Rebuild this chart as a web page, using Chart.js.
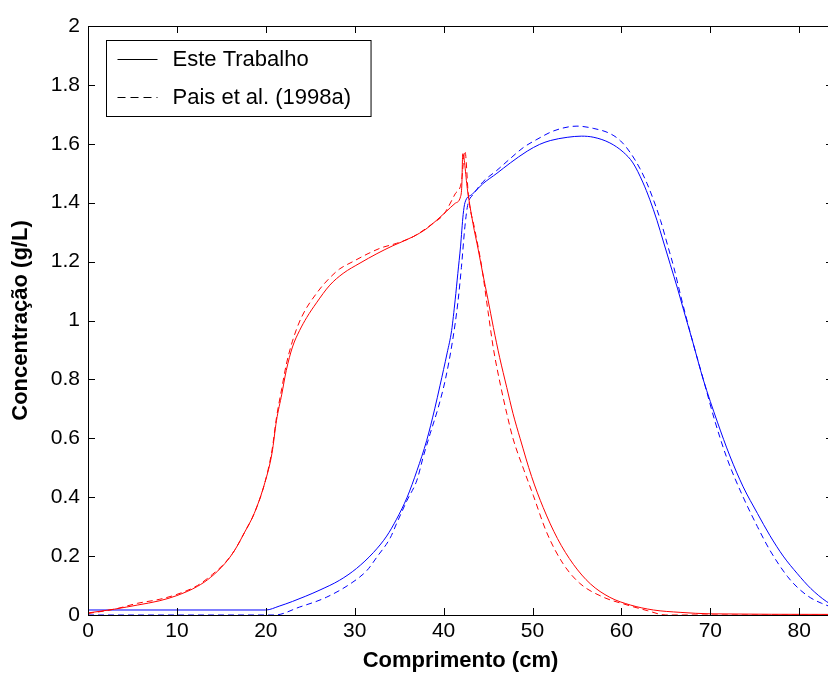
<!DOCTYPE html>
<html lang="pt">
<head>
<meta charset="UTF-8">
<title>Concentração x Comprimento</title>
<script src="https://cdn.jsdelivr.net/npm/chart.js"></script>
<style>
    html, body { margin: 0; padding: 0; background: #fff; overflow: hidden; }
    #wrap { width: 840px; height: 675px; }
</style>
</head>
<body>
<div id="wrap"><canvas id="chart" width="840" height="675"></canvas></div>
<script>
// tick labels
const xTickLabels = ['0', '10', '20', '30', '40', '50', '60', '70', '80'];
const yTickLabels = ['0', '0.2', '0.4', '0.6', '0.8', '1', '1.2', '1.4', '1.6', '1.8', '2'];
const legendLabels = ['Este Trabalho', 'Pais et al. (1998a)'];

// red, this work (solid)
const redSolidX = [0, 3, 5.6, 8, 10, 12.3, 13.8, 15.4, 16.5, 17.6, 18.7, 19.9, 20.7, 21.2, 21.8, 22.3, 23.0, 23.8, 24.6, 25.7,
    27.2, 28.7, 30.6, 32.5, 34.3, 36.6, 38, 39.2, 40.3, 41.3, 41.9, 42.05, 42.15, 42.7, 43.3, 43.9, 44.4, 45.0, 45.6, 46.3,
    47.1, 47.8, 48.6, 49.9, 51.2, 52.8, 54.6, 56.5, 58.7, 61, 63.6, 66.6, 70, 83.8];
const redSolidY = [0.007, 0.02, 0.034, 0.048, 0.066, 0.097, 0.128, 0.175, 0.22, 0.28, 0.345, 0.45, 0.55, 0.66, 0.75, 0.83, 0.91, 0.966, 1.01, 1.06,
    1.12, 1.16, 1.195, 1.227, 1.254, 1.285, 1.31, 1.34, 1.37, 1.398, 1.42, 1.46, 1.566, 1.44, 1.33, 1.24, 1.16, 1.07, 0.976, 0.875,
    0.773, 0.685, 0.60, 0.47, 0.365, 0.26, 0.172, 0.106, 0.06, 0.034, 0.017, 0.009, 0.004, 0.002];

// red, Pais et al. (dashed)
const redDashX = [0, 3, 5.6, 8, 10, 12.3, 14, 15.5, 16.5, 17.6, 18.7, 19.9, 20.7, 21.2, 21.8, 22.3, 23.0, 24.0, 25.9, 27.2,
    28.3, 29.8, 31.5, 33.0, 34.7, 36.6, 38.8, 40, 41.3, 42.0, 42.4, 42.8, 43.5, 44.3, 45.0, 45.6, 46.4, 47.1, 47.8, 49,
    50.1, 51.6, 53.4, 55.3, 58, 60.2, 62.9, 65, 83.8];
const redDashY = [0.005, 0.02, 0.04, 0.053, 0.07, 0.10, 0.138, 0.18, 0.22, 0.28, 0.345, 0.45, 0.56, 0.67, 0.77, 0.85, 0.93, 1.01, 1.10, 1.145,
    1.175, 1.20, 1.227, 1.247, 1.262, 1.285, 1.33, 1.36, 1.43, 1.47, 1.576, 1.42, 1.31, 1.18, 1.03, 0.905, 0.78, 0.685, 0.60, 0.495,
    0.405, 0.28, 0.176, 0.108, 0.06, 0.038, 0.015, 0.0, 0.0];

// blue, this work (solid)
const blueSolidX = [0, 20, 21.5, 23.0, 24.5, 26.1, 28.3, 30.2, 32.1, 33.6, 34.7, 35.9, 37, 38.1, 39.0, 39.6, 40.4, 40.9, 41.3, 41.6,
    41.9, 42.2, 42.4, 43.2, 44.4, 46, 47.5, 49.4, 50.8, 52, 53.9, 55.5, 56.9, 58.7, 60.2, 61.3, 62.4, 63.2, 64.0, 64.7,
    65.5, 66.3, 67, 68, 69.2, 70.8, 72.2, 73.7, 75.3, 76.7, 78.2, 79.8, 81.3, 83.1, 83.8];
const blueSolidY = [0.017, 0.017, 0.03, 0.046, 0.064, 0.085, 0.118, 0.158, 0.212, 0.268, 0.325, 0.40, 0.49, 0.593, 0.70, 0.78, 0.89, 0.966, 1.07, 1.16,
    1.25, 1.36, 1.40, 1.428, 1.464, 1.50, 1.535, 1.575, 1.598, 1.611, 1.622, 1.626, 1.622, 1.603, 1.572, 1.535, 1.47, 1.41, 1.34, 1.27,
    1.19, 1.11, 1.035, 0.93, 0.80, 0.655, 0.54, 0.435, 0.345, 0.27, 0.20, 0.14, 0.09, 0.045, 0.033];

// blue, Pais et al. (dashed)
const blueDashX = [0, 21, 23.8, 26.8, 29.8, 31.4, 32.5, 34, 34.7, 35.9, 37, 37.7, 38.5, 39.4, 40.2, 41.0, 41.6, 42.0, 42.4, 42.7,
    43.4, 44.4, 46, 47.5, 49, 50.5, 52.4, 55, 56.9, 58.7, 59.9, 61, 62.1, 62.9, 63.6, 64.4, 65.2, 65.9, 66.7, 68,
    69.4, 70.5, 71.9, 73.7, 75.3, 76.7, 78.7, 80, 81.3, 82.5, 83.8];
const blueDashY = [0, 0, 0.027, 0.06, 0.112, 0.152, 0.197, 0.262, 0.31, 0.39, 0.458, 0.536, 0.617, 0.705, 0.80, 0.93, 1.06, 1.18, 1.32, 1.39,
    1.43, 1.47, 1.51, 1.55, 1.588, 1.615, 1.644, 1.66, 1.652, 1.635, 1.61, 1.57, 1.515, 1.464, 1.41, 1.34, 1.255, 1.18, 1.08, 0.93,
    0.78, 0.66, 0.53, 0.40, 0.30, 0.22, 0.13, 0.088, 0.058, 0.04, 0.025];

const xMax = 83.8;
const pts = (xs, ys) => xs.map((x, i) => ({ x: x, y: ys[i] }));

function line(label, xs, ys, color, dashed) {
    return {
        label: label,
        data: pts(xs, ys),
        borderColor: color,
        borderWidth: 1,
        borderDash: dashed ? [6, 4] : [],
        pointRadius: 0,
        fill: false,
        cubicInterpolationMode: 'monotone',
        clip: 3
    };
}

// box with inward ticks on all four sides, and the legend inside the axes
const matlabAxes = {
    id: 'matlabAxes',
    afterDatasetsDraw(chart) {
        const ctx = chart.ctx;
        const a = chart.chartArea;
        const xs = chart.scales.x, ys = chart.scales.y;
        const tl = 7;
        ctx.save();
        ctx.strokeStyle = '#000';
        ctx.lineWidth = 1;
        ctx.setLineDash([]);
        ctx.beginPath();
        ctx.rect(Math.round(a.left) + 0.5, Math.round(a.top) + 0.5,
                 Math.round(a.right - a.left), Math.round(a.bottom - a.top));
        xs.ticks.forEach(t => {
            const px = Math.round(xs.getPixelForValue(t.value)) + 0.5;
            ctx.moveTo(px, a.bottom); ctx.lineTo(px, a.bottom - tl);
            ctx.moveTo(px, a.top); ctx.lineTo(px, a.top + tl);
        });
        ys.ticks.forEach(t => {
            const py = Math.round(ys.getPixelForValue(t.value)) + 0.5;
            ctx.moveTo(a.left, py); ctx.lineTo(a.left + tl, py);
            ctx.moveTo(a.right, py); ctx.lineTo(a.right - tl, py);
        });
        ctx.stroke();

        // legend
        ctx.font = '22px "Liberation Sans", Arial, sans-serif';
        const textW = Math.max(...legendLabels.map(s => ctx.measureText(s).width));
        const bx = Math.round(a.left) + 18.5, by = Math.round(a.top) + 14.5;
        const bw = 66 + textW + 20, bh = 76;
        ctx.fillStyle = '#fff';
        ctx.fillRect(bx, by, bw, bh);
        ctx.strokeRect(bx, by, bw, bh);
        ctx.fillStyle = '#000';
        ctx.textBaseline = 'middle';
        ctx.textAlign = 'left';
        legendLabels.forEach((s, i) => {
            const cy = by + 18 + i * 38;
            ctx.setLineDash(i === 0 ? [] : [8, 5]);
            ctx.beginPath();
            ctx.moveTo(bx + 11, Math.round(cy) + 0.5);
            ctx.lineTo(bx + 51, Math.round(cy) + 0.5);
            ctx.stroke();
            ctx.fillText(s, bx + 66, cy + 1);
        });
        ctx.restore();
    }
};

const tickFont = { family: '"Liberation Sans", Arial, sans-serif', size: 21 };
const titleFont = { family: '"Liberation Sans", Arial, sans-serif', size: 22, weight: 'bold' };

new Chart(document.getElementById('chart'), {
    type: 'line',
    data: {
        datasets: [
            line(legendLabels[0], redSolidX, redSolidY, '#ff0000', false),
            line(legendLabels[1], redDashX, redDashY, '#ff0000', true),
            line(legendLabels[0], blueSolidX, blueSolidY, '#0000ff', false),
            line(legendLabels[1], blueDashX, blueDashY, '#0000ff', true)
        ]
    },
    options: {
        responsive: false,
        animation: false,
        devicePixelRatio: 1,
        layout: { padding: { top: 26, right: 7, left: 0, bottom: 0 } },
        plugins: { legend: { display: false }, tooltip: { enabled: false } },
        scales: {
            x: {
                type: 'linear',
                min: 0,
                max: xMax,
                grid: { display: false, drawTicks: false },
                border: { display: false },
                ticks: {
                    stepSize: 10,
                    includeBounds: false,
                    color: '#000',
                    font: tickFont,
                    padding: 4,
                    maxRotation: 0,
                    callback: (v, i) => xTickLabels[i]
                },
                title: {
                    display: true,
                    text: 'Comprimento (cm)',
                    color: '#000',
                    font: titleFont,
                    padding: { top: 0, bottom: 1 }
                },
                afterFit: s => { s.height = 60; }
            },
            y: {
                type: 'linear',
                min: 0,
                max: 2,
                grid: { display: false, drawTicks: false },
                border: { display: false },
                ticks: {
                    stepSize: 0.2,
                    color: '#000',
                    font: tickFont,
                    padding: 8,
                    callback: (v, i) => yTickLabels[i]
                },
                title: {
                    display: true,
                    text: 'Concentração (g/L)',
                    color: '#000',
                    font: titleFont,
                    padding: { top: 8, bottom: 0 }
                },
                afterFit: s => { s.width = 88; }
            }
        }
    },
    plugins: [matlabAxes]
});
</script>
</body>
</html>
